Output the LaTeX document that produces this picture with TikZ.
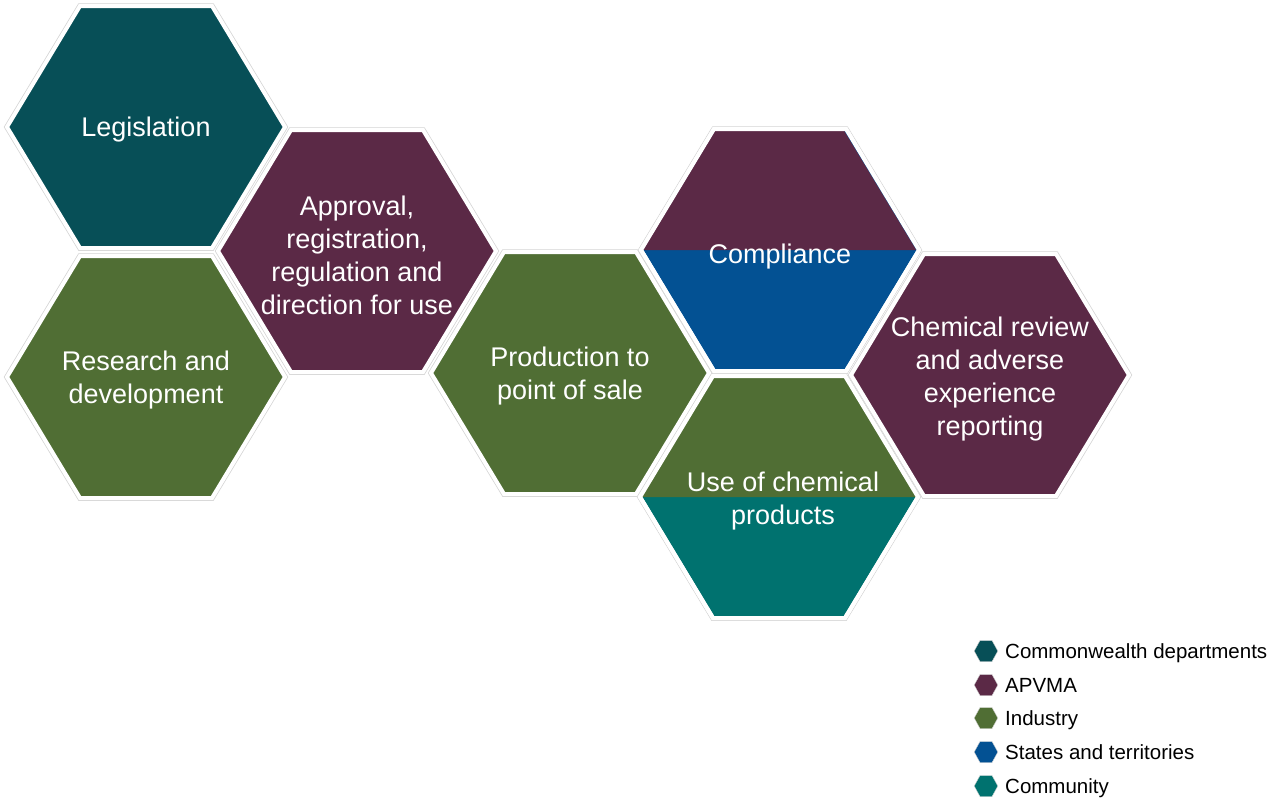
\documentclass[tikz,border=0pt]{standalone}
\usepackage{fontspec}
\setmainfont{Liberation Sans}
\definecolor{cwlth}{HTML}{074F57}
\definecolor{apvma}{HTML}{5B2946}
\definecolor{industry}{HTML}{506E34}
\definecolor{states}{HTML}{035193}
\definecolor{community}{HTML}{00726F}
\definecolor{rim}{HTML}{D4D4D4}

% cell hexagon (points left/right) centred at (#2,#3): half width #4, half top edge #5, half height #6
\newcommand{\hexagon}[6][]{%
  \path[#1] ({#2+#4},{#3}) -- ({#2+#5},{#3+#6}) -- ({#2-#5},{#3+#6})
    -- ({#2-#4},{#3}) -- ({#2-#5},{#3-#6}) -- ({#2+#5},{#3-#6}) -- cycle;}
% upper half of the same hexagon
\newcommand{\tophalf}[6][]{%
  \path[#1] ({#2+#4},{#3}) -- ({#2+#5},{#3-#6}) -- ({#2-#5},{#3-#6})
    -- ({#2-#4},{#3}) -- cycle;}
\newcommand{\bigcell}[3][]{\hexagon[#1]{#2}{#3}{139}{66}{121}}

\tikzset{
  cellrim/.style={draw=rim, line width=5.5pt},
  cell/.style={fill=#1, draw=white, line width=4pt, line join=miter},
  lbl/.style={text=white, align=center, font=\fontsize{27}{33}\selectfont, inner sep=0pt},
  keytext/.style={anchor=base west, text=black, font=\fontsize{20.5}{24}\selectfont, inner sep=0pt},
}

\begin{document}
\begin{tikzpicture}[x=1pt, y=-1pt]
\useasboundingbox (0,0) rectangle (1285,801);

% faint outer rims
\foreach \cx/\cy in {146/127, 146/377, 357/251, 570/373, 780/250, 779/497, 990/375}
  {\bigcell[cellrim]{\cx}{\cy}}

% cells
\bigcell[cell=cwlth]{146}{127}
\bigcell[cell=industry]{146}{377}
\bigcell[cell=apvma]{357}{251}
\bigcell[cell=industry]{570}{373}

% Compliance: APVMA over states and territories
\bigcell[cell=states]{780}{250}
\tophalf[fill=apvma]{780}{250}{137}{65}{119}
\draw[states, line width=1pt] ({780+137},250) -- ({780+65},{250-119});
\bigcell[draw=white, line width=4pt]{780}{250}

% Use of chemical products: industry over community
\bigcell[cell=community]{779}{497}
\tophalf[fill=industry]{779}{497}{139}{66}{121}
\bigcell[draw=white, line width=4pt]{779}{497}

\bigcell[cell=apvma]{990}{375}

% labels
\node[lbl] (legis) at (146,130) {Legislation};
\node[lbl] (resdev) at (146,380) {Research and\\development};
\node[lbl] (approval) at (357,255) {Approval,\\registration,\\regulation and\\direction for use};
\node[lbl] (prod) at (570,376) {Production to\\point of sale};
\node[lbl] (compl) at (780,257) {Compliance};
\node[lbl] (use) at (783,501) {Use of chemical\\products};
\node[lbl] (review) at (990,379) {Chemical review\\and adverse\\experience\\reporting};

% key
\foreach \col/\yy/\name/\txt in {cwlth/651/k1/Commonwealth departments,
                                 apvma/685/k2/APVMA,
                                 industry/718/k3/Industry,
                                 states/752/k4/States and territories,
                                 community/786/k5/Community}{
  \hexagon[fill=\col, draw=rim, line width=0.4pt]{986}{\yy}{11.8}{6}{10.5}
  \node[keytext] (\name) at (1005,{\yy+7.3}) {\txt};
}
\end{tikzpicture}
\end{document}
